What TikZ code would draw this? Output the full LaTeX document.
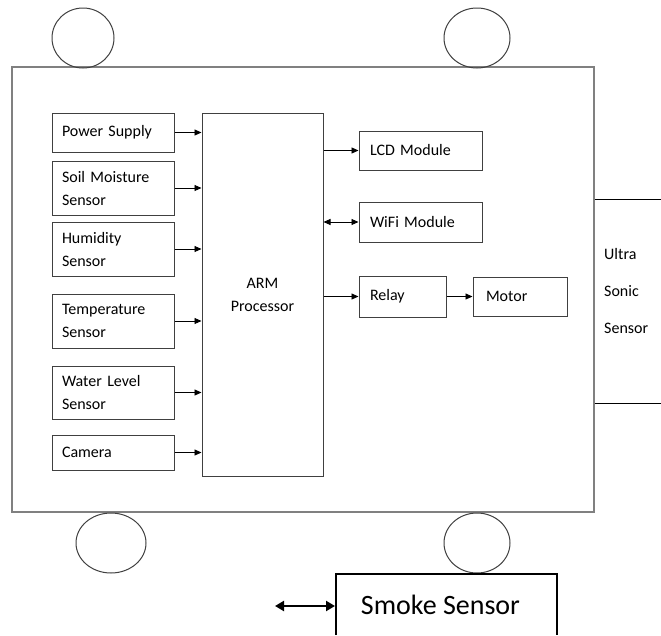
\documentclass[tikz,border=0pt]{standalone}
\usepackage{fontspec}
\setmainfont{Carlito}
\usetikzlibrary{arrows.meta,shapes.geometric,calc}
\definecolor{boxline}{HTML}{404040}
\definecolor{bodyline}{HTML}{808080}
\begin{document}
\begin{tikzpicture}[x=1pt,y=-1pt,
  every node/.style={font=\fontsize{16}{23}\selectfont},
  blk/.style={draw=boxline, line width=1pt, inner ysep=0pt, align=left},
  lbox/.style={blk, text width=102pt, inner xsep=10pt},
  wheel/.style={draw=boxline, ellipse, line width=1pt, inner sep=0pt},
  arr/.style={draw=black, line width=0.9pt, -{Triangle[length=7pt,width=6pt]}},
  darr/.style={draw=black, line width=0.9pt, {Triangle[length=7pt,width=6pt]}-{Triangle[length=7pt,width=6pt]}},
  bigarr/.style={draw=black, line width=2.2pt, {Triangle[length=9pt,width=10pt]}-{Triangle[length=9pt,width=10pt]}}
]
\useasboundingbox (0,0) rectangle (661,635);
\fill[white] (0,0) rectangle (661,635);

% chassis
\node[draw=bodyline, line width=1.4pt, minimum width=582pt, minimum height=445pt, inner sep=0pt] (body) at (303,289.5) {};

% wheels
\node[wheel, minimum width=62pt, minimum height=60pt] (w1) at (83,38) {};
\node[wheel, minimum width=66pt, minimum height=60pt] (w2) at (477,38) {};
\node[wheel, minimum width=70pt, minimum height=60pt] (w3) at (111,543) {};
\node[wheel, minimum width=66pt, minimum height=60pt] (w4) at (477,543) {};

% left column
\node[lbox, minimum height=39pt] (ps) at (113,132.5) {Power Supply};
\node[lbox, minimum height=54pt] (soil) at (113,188) {Soil Moisture\\Sensor};
\node[lbox, minimum height=54pt] (hum) at (113,249) {Humidity\\Sensor};
\node[lbox, minimum height=54pt] (temp) at (113,321) {Temperature\\Sensor};
\node[lbox, minimum height=53pt] (water) at (113,392.5) {Water Level\\Sensor};
\node[lbox, minimum height=35pt] (cam) at (113,452.5) {Camera};

% processor
\node[blk, align=center, minimum width=121pt, minimum height=363pt, inner xsep=0pt] (arm) at (262.5,294.5) {ARM\\Processor};

% right column
\node[blk, text width=101pt, inner xsep=11pt, minimum height=39pt] (lcd) at (420.5,150.5) {LCD Module};
\node[blk, text width=101pt, inner xsep=11pt, minimum height=40pt] (wifi) at (420.5,222) {WiFi Module};
\node[blk, text width=65pt, inner xsep=11pt, minimum height=41pt] (relay) at (402.5,296.5) {Relay};
\node[blk, text width=68pt, inner xsep=13pt, minimum height=39pt] (motor) at (520,296.5) {Motor};

% arrows into processor
\foreach \n in {ps,soil,hum,temp,water,cam}
  \draw[arr] (\n.east) -- (\n.east -| arm.west);

% arrows out of processor
\draw[arr] (arm.east |- lcd.west) -- (lcd.west);
\draw[darr] (arm.east |- wifi.west) -- (wifi.west);
\draw[arr] (arm.east |- relay.west) -- (relay.west);
\draw[arr] (relay.east) -- (relay.east -| motor.west);

% ultrasonic sensor
\coordinate (u1) at (661,199);
\coordinate (u2) at (661,403);
\draw[draw=black, line width=0.9pt] (u1 -| body.east) -- (u1);
\draw[draw=black, line width=0.9pt] (u2 -| body.east) -- (u2);
\node[anchor=west, align=left, inner sep=0pt, font=\fontsize{16}{37}\selectfont] (us) at (604,290.5) {Ultra\\Sonic\\Sensor};

% smoke sensor
\coordinate (sbl) at (336,635);
\coordinate (sbr) at (557,635);
\draw[draw=black, line width=1.5pt] (sbl) -- (336,574) -- (557,574) -- (sbr);
\node[font=\fontsize{28}{34}\selectfont, inner sep=0pt] (smoke) at (440.5,605) {Smoke Sensor};
\coordinate (sa) at (275,606);
\coordinate (sb) at (335,606);
\draw[bigarr] (sa) -- (sb);
\end{tikzpicture}
\end{document}
